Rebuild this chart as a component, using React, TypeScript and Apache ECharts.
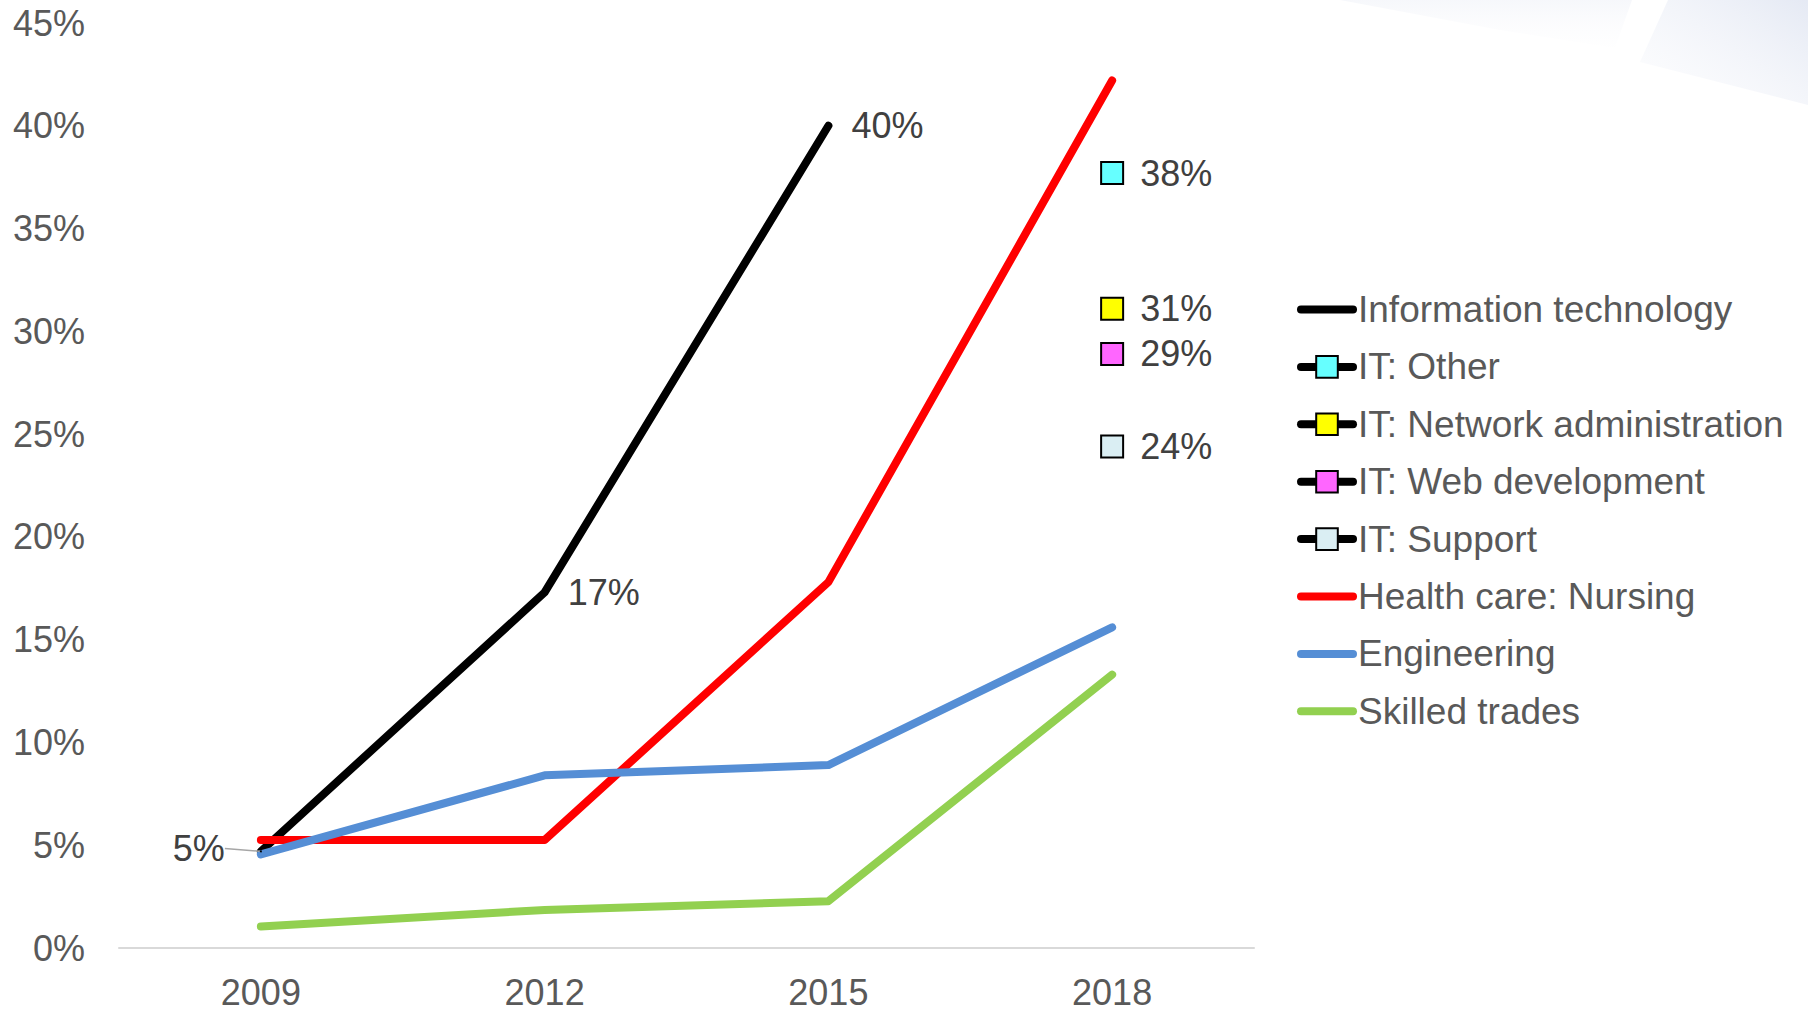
import React, { useEffect, useRef } from "react";
import * as echarts from "echarts";

const years = ["2009", "2012", "2015", "2018"];
const infoTech = [4.7, 17.3, 40.0, null];
const itOther = [null, null, null, 37.7];
const itNetwork = [null, null, null, 31.1];
const itWeb = [null, null, null, 28.9];
const itSupport = [null, null, null, 24.4];
const nursing = [5.25, 5.25, 17.8, 42.2];
const engineering = [4.55, 8.4, 8.9, 15.6];
const skilled = [1.05, 1.85, 2.28, 13.3];
const infoTechLabelled = [true, true, true, false];

const legendNames = [
  "Information technology",
  "IT: Other",
  "IT: Network administration",
  "IT: Web development",
  "IT: Support",
  "Health care: Nursing",
  "Engineering",
  "Skilled trades",
];
const lineOnlyLegend = ["Information technology", "Health care: Nursing", "Engineering", "Skilled trades"];

const FONT = "'Liberation Sans', Arial, sans-serif";

export default function App() {
  const ref = useRef<HTMLDivElement>(null);
  useEffect(() => {
    document.body.style.margin = "0";
    const chart = echarts.init(ref.current!, null, { renderer: "svg" });
    const pct = (p: any) => Math.round(p.value) + "%";
    const labelStyle = {
      fontSize: 36,
      color: "#404040",
      fontFamily: FONT,
      formatter: pct,
    };
    const mainLine = (name: string, data: any[], color: string, extra: any = {}) => ({
      name,
      type: "line",
      data,
      symbol: "circle",
      symbolSize: 2,
      showSymbol: true,
      lineStyle: { color, width: 8, cap: "round", join: "round" },
      itemStyle: { color },
      emphasis: { disabled: true },
      ...extra,
    });
    const subPoint = (name: string, data: any[], fill: string) => ({
      name,
      type: "line",
      data,
      symbol: "rect",
      symbolSize: 22,
      showSymbol: true,
      lineStyle: { color: "#000", width: 8, cap: "round" },
      itemStyle: { color: fill, borderColor: "#000", borderWidth: 2 },
      label: { show: true, position: "right", distance: 16, ...labelStyle },
      emphasis: { disabled: true },
      z: 5,
    });
    const itData = infoTech.map((v, i) => {
      if (!infoTechLabelled[i] || v == null) return v;
      if (i === 0) {
        return {
          value: v,
          label: { show: true, position: "left", distance: 6, ...labelStyle },
          labelLine: { show: true, lineStyle: { color: "#a6a6a6", width: 1.5 } },
        };
      }
      return {
        value: v,
        label: { show: true, position: "right", distance: 22, ...labelStyle },
      };
    });

    chart.setOption({
      animation: false,
      backgroundColor: "#ffffff",
      textStyle: { fontFamily: FONT },
      graphic: [
        {
          type: "polygon",
          shape: { points: [[1340, 0], [1632, 0], [1615, 48], [1500, 30]] },
          style: {
            fill: new echarts.graphic.LinearGradient(0, 0, 0, 1, [
              { offset: 0, color: "rgba(230,234,244,0.35)" },
              { offset: 1, color: "rgba(245,246,250,0.05)" },
            ]),
          },
          silent: true,
          z: -10,
        },
        {
          type: "polygon",
          shape: { points: [[1668, 0], [1808, 0], [1808, 105], [1640, 62]] },
          style: {
            fill: new echarts.graphic.LinearGradient(1, 0, 0, 1, [
              { offset: 0, color: "rgba(220,226,240,0.75)" },
              { offset: 1, color: "rgba(242,244,250,0.15)" },
            ]),
          },
          silent: true,
          z: -10,
        },
      ],
      grid: { left: 119, right: 554, top: 23, bottom: 60, containLabel: false },
      xAxis: {
        type: "category",
        data: years,
        boundaryGap: true,
        axisLine: { show: true, lineStyle: { color: "#d9d9d9", width: 2 } },
        axisTick: { show: false },
        axisLabel: { fontSize: 36, color: "#595959", margin: 26, fontFamily: FONT },
        splitLine: { show: false },
      },
      yAxis: {
        type: "value",
        min: 0,
        max: 45,
        interval: 5,
        axisLine: { show: false },
        axisTick: { show: false },
        splitLine: { show: false },
        axisLabel: {
          fontSize: 36,
          color: "#595959",
          margin: 34,
          fontFamily: FONT,
          formatter: "{value}%",
        },
      },
      legend: {
        orient: "vertical",
        left: 1292,
        top: 286,
        padding: 5,
        itemWidth: 52,
        itemHeight: 27,
        itemGap: 20.4,
        selectedMode: false,
        lineStyle: { width: 8, cap: "round" },
        textStyle: { fontSize: 37, color: "#595959", fontFamily: FONT },
        data: legendNames.map((n) =>
          lineOnlyLegend.indexOf(n) >= 0 ? { name: n, itemStyle: { opacity: 0 } } : { name: n }
        ),
      },
      series: [
        mainLine("Information technology", itData, "#000000", {
          labelLayout: (p: any) => (p.dataIndex === 0 ? { dx: -29, dy: -3 } : {}),
        }),
        subPoint("IT: Other", itOther, "#66FFFF"),
        subPoint("IT: Network administration", itNetwork, "#FFFF00"),
        subPoint("IT: Web development", itWeb, "#FF66FF"),
        subPoint("IT: Support", itSupport, "#DAEEF3"),
        mainLine("Health care: Nursing", nursing, "#FF0000"),
        mainLine("Engineering", engineering, "#558ED5"),
        mainLine("Skilled trades", skilled, "#92D050"),
      ],
    });
    return () => chart.dispose();
  }, []);
  return <div ref={ref} style={{ width: 1808, height: 1010 }} />;
}
